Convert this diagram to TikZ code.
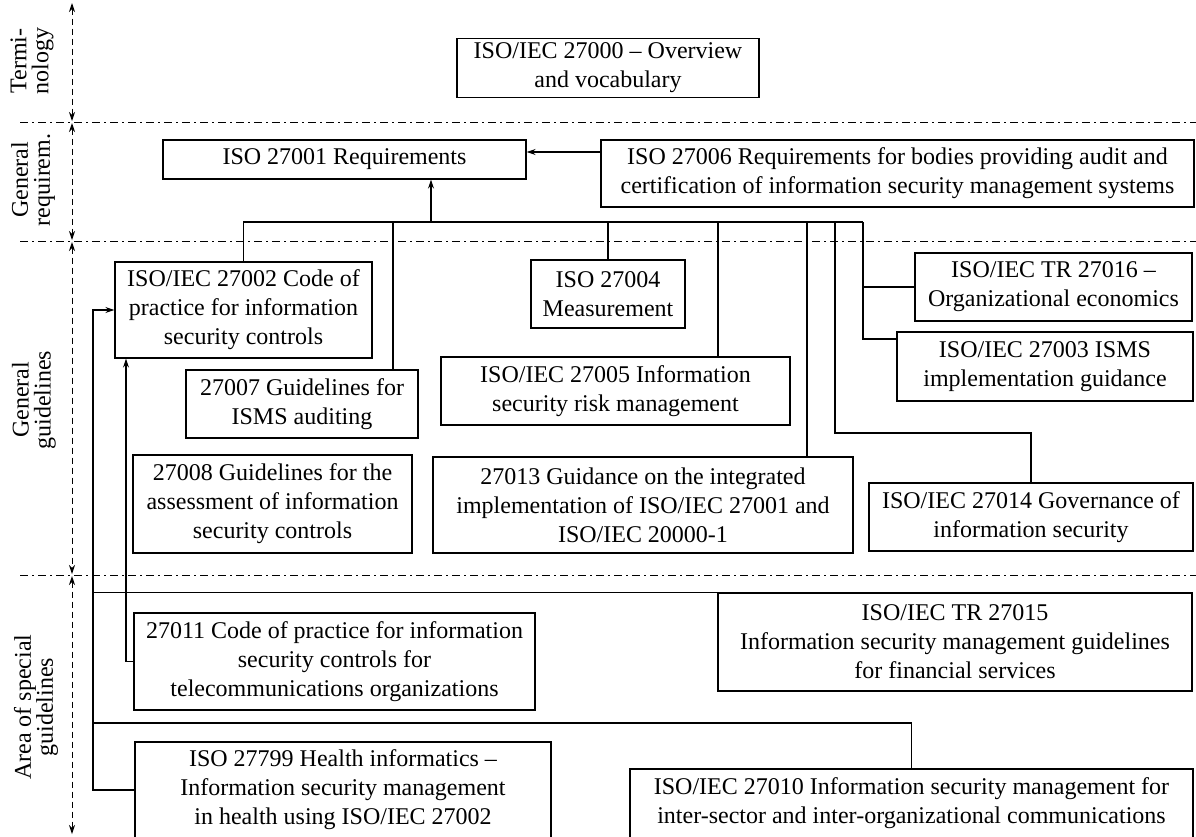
\documentclass[tikz,border=0pt]{standalone}
\usepackage{fontspec}
\setmainfont{Liberation Serif}
\usetikzlibrary{arrows.meta,calc}
\begin{document}
\begin{tikzpicture}[x=1pt,y=-1pt,
  box/.style={draw,line width=1.3pt,inner sep=0pt,align=center,font=\fontsize{24}{29}\selectfont},
  conn/.style={line width=1.3pt},
  arr/.style={conn,-{Stealth[length=9pt,width=6pt]}},
  sep/.style={line width=1pt,dash pattern=on 8pt off 4pt on 2pt off 4pt},
  axisline/.style={line width=1pt,dash pattern=on 6pt off 4pt,{Stealth[length=9pt,width=6pt]}-{Stealth[length=9pt,width=6pt]}},
  axlabel/.style={rotate=90,align=center,inner sep=0pt,font=\fontsize{24}{22}\selectfont}]
\useasboundingbox (0,0) rectangle (1196,836);

% separators
\draw[sep] (20,122) -- (1196,122);
\draw[sep] (20,241) -- (1196,241);
\draw[sep] (20,575) -- (1196,575);

% left axis
\draw[axisline] (72,3) -- (72,121);
\draw[axisline] (72,123) -- (72,240);
\draw[axisline] (72,242) -- (72,574);
\draw[axisline] (72,576) -- (72,834);
\node[axlabel] (lab1) at (32,61) {Termi-\\nology};
\node[axlabel] (lab2) at (33,180) {General\\requirem.};
\node[axlabel] (lab3) at (34,400) {General\\guidelines};
\node[axlabel] (lab4) at (36,707) {Area of special\\guidelines};

% boxes
\node[box,minimum width=302pt,minimum height=59pt] (t27000) at (608,68) {ISO/IEC 27000 – Overview\\and vocabulary};
\node[box,minimum width=363pt,minimum height=39pt] (t27001) at (344.5,159.5) {ISO 27001 Requirements};
\node[box,minimum width=593pt,minimum height=67pt] (t27006) at (897.5,173.5) {ISO 27006 Requirements for bodies providing audit and\\certification of information security management systems};
\node[box,minimum width=257pt,minimum height=96pt] (t27002) at (243.5,310) {ISO/IEC 27002 Code of\\practice for information\\security controls};
\node[box,minimum width=154pt,minimum height=68pt] (t27004) at (608,294) {ISO 27004\\Measurement};
\node[box,minimum width=277pt,minimum height=68pt] (t27016) at (1053.5,287) {ISO/IEC TR 27016 –\\Organizational economics};
\node[box,minimum width=296pt,minimum height=69pt] (t27003) at (1045,366.5) {ISO/IEC 27003 ISMS\\implementation guidance};
\node[box,minimum width=232pt,minimum height=68pt] (t27007) at (302,404) {27007 Guidelines for\\ISMS auditing};
\node[box,minimum width=349pt,minimum height=68pt] (t27005) at (615.5,391) {ISO/IEC 27005 Information\\security risk management};
\node[box,minimum width=279pt,minimum height=98pt] (t27008) at (272.5,504) {27008 Guidelines for the\\assessment of information\\security controls};
\node[box,minimum width=420pt,minimum height=96pt] (t27013) at (643,505) {27013 Guidance on the integrated\\implementation of ISO/IEC 27001 and\\ISO/IEC 20000-1};
\node[box,minimum width=324pt,minimum height=68pt] (t27014) at (1031,517) {ISO/IEC 27014 Governance of\\information security};
\node[box,minimum width=401pt,minimum height=97pt] (t27011) at (334.5,661.5) {27011 Code of practice for information\\security controls for\\telecommunications organizations};
\node[box,minimum width=474pt,minimum height=98pt] (t27015) at (955,642) {ISO/IEC TR 27015\\Information security management guidelines\\for financial services};
\node[box,minimum width=416pt,minimum height=96pt] (t27799) at (343,790) {ISO 27799 Health informatics –\\Information security management\\in health using ISO/IEC 27002};
\node[box,minimum width=563pt,minimum height=69pt] (t27010) at (911.5,803.5) {ISO/IEC 27010 Information security management for\\inter-sector and inter-organizational communications};

% top connectors
\draw[arr] (t27006.west |- 0,152) -- (t27001.east |- 0,152);
\coordinate (busR) at (863,222);
\coordinate (c7) at (393,222);
\coordinate (c1) at (431,222);
\coordinate (c5) at (718,222);
\coordinate (c13) at (807,222);
\coordinate (c14) at (835,222);
\coordinate (k14) at (835,433);
\coordinate (k3) at (863,339);
\draw[conn] (t27002.north) |- (busR);
\draw[arr] (c1) -- (c1 |- t27001.south);
\draw[conn] (c7) -- (c7 |- t27007.north);
\draw[conn] (t27004.north) -- (t27004.north |- busR);
\draw[conn] (c5) -- (c5 |- t27005.north);
\draw[conn] (c13) -- (c13 |- t27013.north);
\draw[conn] (c14) -- (k14) -| (t27014.north);
\draw[conn] (busR) -- (k3) -- (k3 -| t27003.west);
\draw[conn] (busR |- t27016.west) -- (t27016.west);

% left connectors
\coordinate (xL) at (93,0);
\coordinate (x11) at (126,0);
\draw[arr] (t27799.west) -| (xL |- t27002.west) -- (t27002.west);
\draw[conn] (xL |- t27015.north west) -- (t27015.north west);
\coordinate (l10) at (93,723);
\draw[conn] (l10) -| (t27010.north);
\draw[arr] (t27011.west) -- (t27011.west -| x11) -- (x11 |- t27002.south);
\end{tikzpicture}
\end{document}
